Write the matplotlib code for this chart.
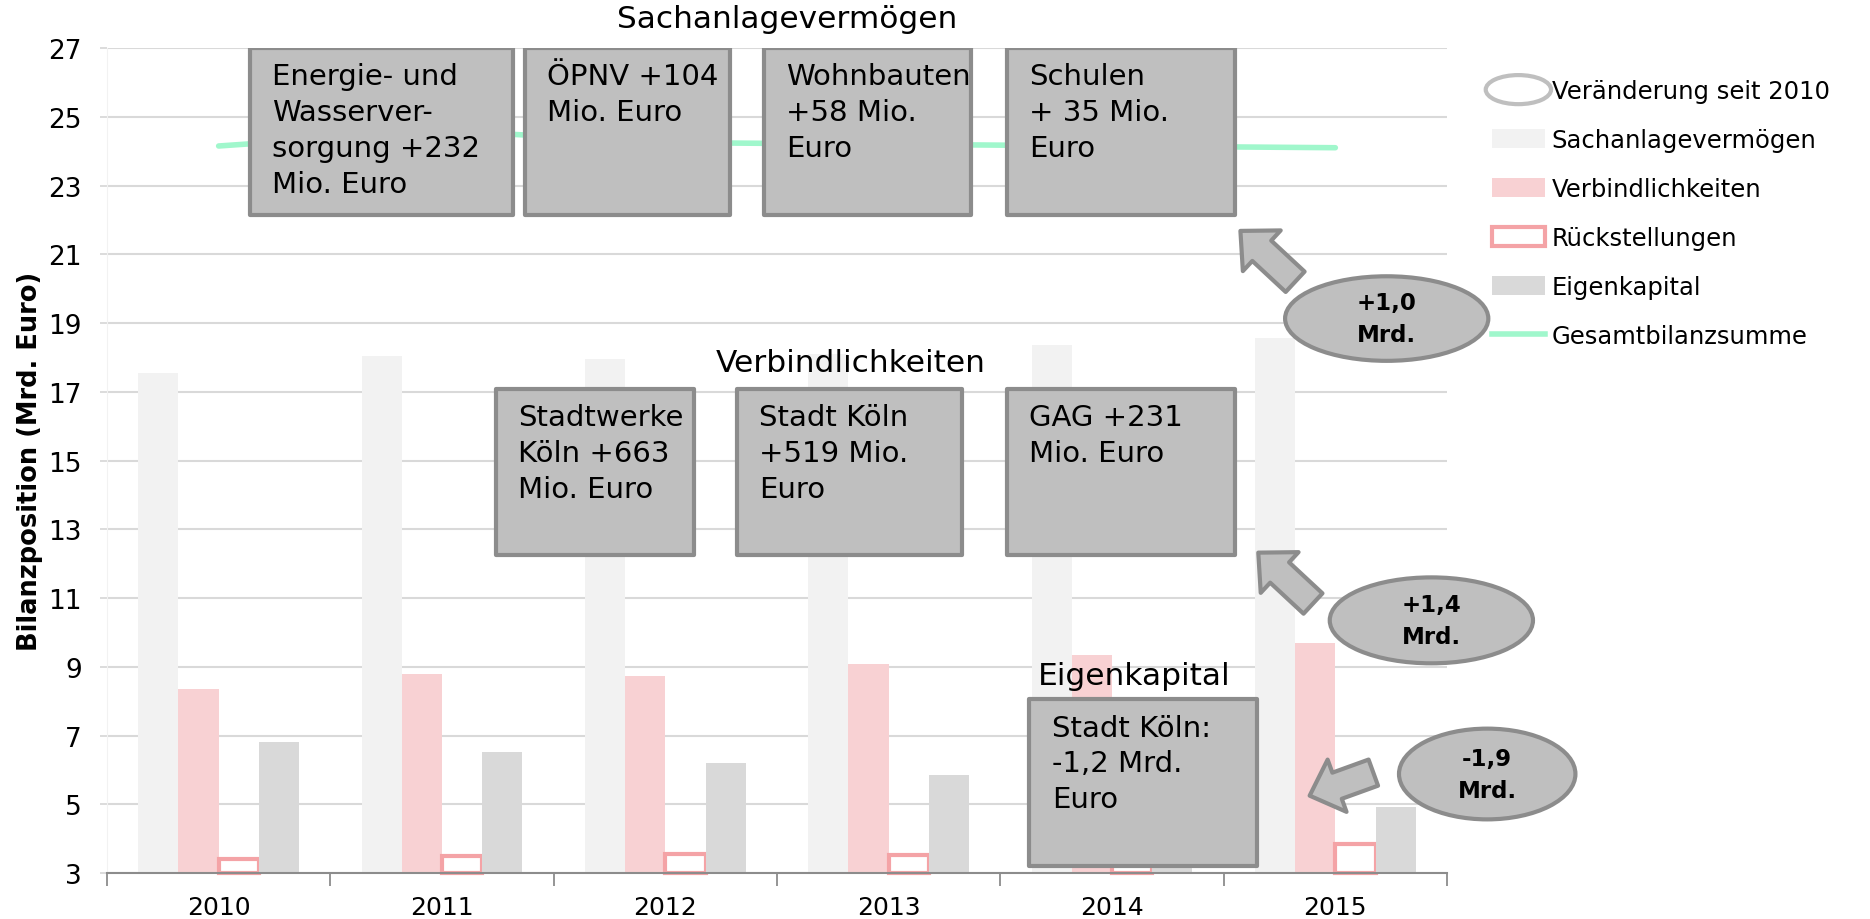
import matplotlib.pyplot as plt
from matplotlib.patches import Rectangle, Ellipse, FancyArrowPatch, ArrowStyle
from matplotlib.lines import Line2D
from matplotlib.legend_handler import HandlerPatch
import numpy as np

# Werte in Mrd. Euro
years = ['2010', '2011', '2012', '2013', '2014', '2015']
sachanlage = [17.55, 18.03, 17.96, 18.1, 18.37, 18.55]
verbindlichkeiten = [8.36, 8.8, 8.74, 9.07, 9.35, 9.7]
rueckstellungen = [3.41, 3.49, 3.54, 3.53, 3.65, 3.85]
eigenkapital = [6.8, 6.53, 6.2, 5.86, 5.55, 4.92]
gesamt = [24.15, 24.6, 24.25, 24.2, 24.15, 24.1]

# Erläuterungen
box_top = ['Energie- und\nWasserver-\nsorgung +232\nMio. Euro', 'ÖPNV +104\nMio. Euro',
           'Wohnbauten\n+58 Mio.\nEuro', 'Schulen\n+ 35 Mio.\nEuro']
box_mid = ['Stadtwerke\nKöln +663\nMio. Euro', 'Stadt Köln\n+519 Mio.\nEuro', 'GAG +231\nMio. Euro']
box_ek = 'Stadt Köln:\n-1,2 Mrd.\nEuro'
changes = ['+1,0\nMrd.', '+1,4\nMrd.', '-1,9\nMrd.']

c_sach = '#f2f2f2'
c_verb = '#f8d1d3'
c_rueck = '#f4a3a6'
c_ek = '#d9d9d9'
c_line = '#a0f7cc'
c_box = '#bfbfbf'
c_edge = '#8c8c8c'

fig = plt.figure(figsize=(18.7, 9.2), dpi=100)
ax = fig.add_axes([0.0572, 0.05, 0.7166, 0.8967])

x = np.arange(len(years))
w = 0.18
base = 3
ax.bar(x - 1.5 * w, np.array(sachanlage) - base, w, bottom=base, color=c_sach, zorder=2)
ax.bar(x - 0.5 * w, np.array(verbindlichkeiten) - base, w, bottom=base, color=c_verb, zorder=2)
ax.bar(x + 0.5 * w, np.array(rueckstellungen) - base, w, bottom=base, facecolor='white',
       edgecolor=c_rueck, linewidth=3, zorder=2, clip_on=False)
ax.bar(x + 1.5 * w, np.array(eigenkapital) - base, w, bottom=base, color=c_ek, zorder=2)
ax.plot(x, gesamt, color=c_line, lw=4, solid_capstyle='round', zorder=3)

ax.set_xlim(-0.5, 5.5)
ax.set_ylim(3, 27)
ax.set_yticks(np.arange(3, 28, 2))
ax.set_xticks(x)
ax.set_xticklabels(years)
ax.set_xticks(np.arange(-0.5, 6, 1), minor=True)
ax.tick_params(axis='x', which='major', length=0, labelsize=18, pad=16)
ax.tick_params(axis='x', which='minor', length=9, width=1.3, color='#8c8c8c')
ax.tick_params(axis='y', length=5, width=1.3, color='#d9d9d9', labelsize=19, pad=13)
ax.grid(axis='y', color='#d9d9d9', lw=1.5)
ax.set_axisbelow(True)
for s in ['top', 'right']:
    ax.spines[s].set_visible(False)
ax.spines['left'].set_color('#f2f2f2')
ax.spines['bottom'].set_color('#8c8c8c')
ax.spines['bottom'].set_linewidth(1.5)
ax.set_ylabel('Bilanzposition (Mrd. Euro)', fontsize=18.5, fontweight='bold', labelpad=4)


def info_box(x0, x1, y0, y1, txt):
    ax.add_patch(Rectangle((x0, y0), x1 - x0, y1 - y0, facecolor=c_box, edgecolor=c_edge,
                           lw=3, zorder=5, joinstyle='round'))
    ax.text(x0 + 0.1, y1 - 0.42, txt, fontsize=21, va='top', ha='left', linespacing=1.36, zorder=6)


top_x = [(0.14, 1.32), (1.37, 2.29), (2.44, 3.37), (3.53, 4.55)]
for (a, b), t in zip(top_x, box_top):
    info_box(a, b, 22.15, 27.0, t)
mid_x = [(1.24, 2.13), (2.32, 3.33), (3.53, 4.55)]
for (a, b), t in zip(mid_x, box_mid):
    info_box(a, b, 12.26, 17.08, t)
info_box(3.63, 4.65, 3.21, 8.06, box_ek)

fig.text(0.421, 0.979, 'Sachanlagevermögen', fontsize=22.5, ha='center', va='center')
ax.text(2.83, 17.85, 'Verbindlichkeiten', fontsize=22.5, ha='center', va='center', zorder=6)
ax.text(4.1, 8.75, 'Eigenkapital', fontsize=22.5, ha='center', va='center', zorder=6)

# Veränderung seit 2010
ell = [(5.23, 19.13, 0.91, 2.46), (5.43, 10.35, 0.91, 2.5), (5.68, 5.88, 0.79, 2.64)]
for (cx, cy, ew, eh), t in zip(ell, changes):
    ax.add_patch(Ellipse((cx, cy), ew, eh, facecolor=c_box, edgecolor=c_edge, lw=3,
                         zorder=5, clip_on=False))
    ax.text(cx, cy, t, fontsize=16.5, fontweight='bold', ha='center', va='center',
            linespacing=1.5, zorder=6, clip_on=False)

arrows = [((4.82, 20.2), (4.575, 21.68)), ((4.9, 10.84), (4.655, 12.32)), ((5.17, 5.92), (4.885, 5.25))]
style = ArrowStyle.Simple(head_length=21, head_width=40, tail_width=20)
for tail, tip in arrows:
    ax.add_patch(FancyArrowPatch(tail, tip, arrowstyle=style, mutation_scale=1, shrinkA=0, shrinkB=0,
                                 facecolor=c_box, edgecolor=c_edge, lw=3, zorder=5, clip_on=False))


class HandlerEllipse(HandlerPatch):
    def create_artists(self, legend, orig_handle, xdescent, ydescent, width, height, fontsize, trans):
        p = Ellipse((width / 2 - xdescent, height / 2 - ydescent), width * 1.25, height * 1.5,
                    facecolor='white', edgecolor='#bfbfbf', lw=3)
        p.set_transform(trans)
        return [p]


handles = [
    Ellipse((0, 0), 1, 1),
    Rectangle((0, 0), 1, 1, facecolor=c_sach),
    Rectangle((0, 0), 1, 1, facecolor=c_verb),
    Rectangle((0, 0), 1, 1, facecolor='white', edgecolor=c_rueck, lw=3),
    Rectangle((0, 0), 1, 1, facecolor=c_ek),
    Line2D([], [], color=c_line, lw=4),
]
labels = ['Veränderung seit 2010', 'Sachanlagevermögen', 'Verbindlichkeiten',
          'Rückstellungen', 'Eigenkapital', 'Gesamtbilanzsumme']
fig.legend(handles, labels, loc='upper left', bbox_to_anchor=(0.798, 0.913), frameon=False,
           fontsize=17.5, handlelength=2.15, handleheight=0.85, handletextpad=0.3, labelspacing=1.03,
           borderaxespad=0, borderpad=0, handler_map={Ellipse: HandlerEllipse()})

fig.savefig('out.png', dpi=100)
